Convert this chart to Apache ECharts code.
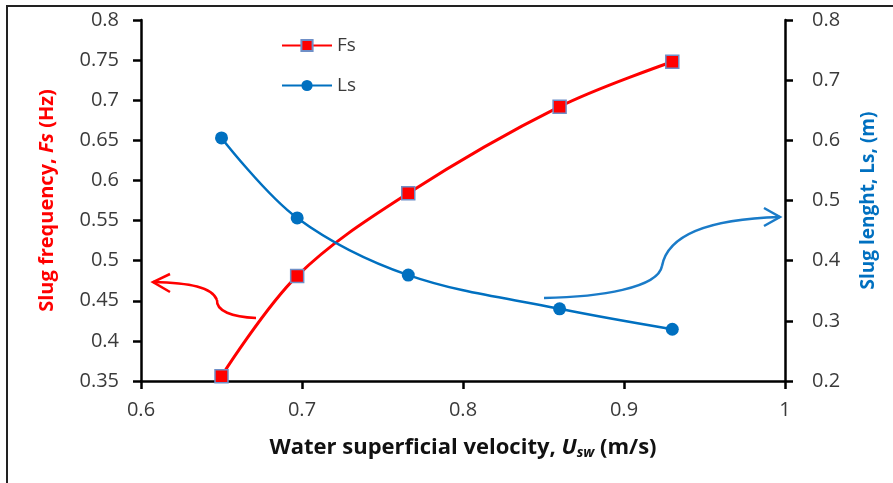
<!DOCTYPE html>
<html>
<head>
<meta charset="utf-8">
<script src="https://cdn.jsdelivr.net/npm/echarts@6/dist/echarts.min.js"></script>
<style>
  html, body { margin: 0; padding: 0; background: #fff; }
  #chart { width: 893px; height: 483px; }
</style>
</head>
<body>
<div id="chart"></div>
<script>
  // water superficial velocity (m/s)
  const velocity = [0.65, 0.697, 0.766, 0.86, 0.93];
  // slug frequency Fs (Hz), left axis
  const fsValues = [0.356, 0.481, 0.584, 0.692, 0.748];
  // slug length Ls (m), right axis
  const lsValues = [0.604, 0.471, 0.376, 0.32, 0.286];

  const RED = '#ff0000';
  const BLUE = '#0070c0';
  const ARROW_BLUE = '#1a7bc8';
  const FONT = '"Open Sans", "Liberation Sans", sans-serif';
  const TXT = '#3a3a3a';

  const chart = echarts.init(document.getElementById('chart'));

  const tickLabel = { fontFamily: FONT, fontSize: 20, color: TXT };
  const axisLine = { show: true, lineStyle: { color: '#000', width: 2.5 } };
  const axisTick = { show: true, inside: false, length: 8, lineStyle: { color: '#000', width: 2.5 } };

  function curve(x1, y1, c1x, c1y, c2x, c2y, x2, y2, color) {
    return {
      type: 'bezierCurve',
      shape: { x1: x1, y1: y1, cpx1: c1x, cpy1: c1y, cpx2: c2x, cpy2: c2y, x2: x2, y2: y2 },
      style: { fill: null, stroke: color, lineWidth: 2.5 },
      silent: true
    };
  }
  function head(points, color) {
    return {
      type: 'polyline',
      shape: { points: points },
      style: { fill: null, stroke: color, lineWidth: 2.5 },
      silent: true
    };
  }

  chart.setOption({
    animation: false,
    grid: { left: 141, right: 108, top: 20, bottom: 102 },
    legend: {
      orient: 'vertical',
      left: 276,
      top: 31,
      itemWidth: 50,
      itemHeight: 14,
      itemGap: 21,
      textStyle: { fontFamily: FONT, fontSize: 19, color: TXT },
      data: ['Fs', 'Ls']
    },
    xAxis: {
      type: 'value',
      min: 0.6,
      max: 1,
      interval: 0.1,
      splitLine: { show: false },
      axisLine: axisLine,
      axisTick: axisTick,
      axisLabel: Object.assign({ margin: 19, formatter: v => String(+v.toFixed(1)) }, tickLabel),
      name: '{a|Water superficial velocity, }{i|U}{s|sw}{a| (m/s)}',
      nameLocation: 'middle',
      nameGap: 55,
      nameTextStyle: {
        rich: {
          a: { fontFamily: FONT, fontSize: 22, fontWeight: 'bold', color: '#111' },
          i: { fontFamily: FONT, fontSize: 22, fontWeight: 'bold', fontStyle: 'italic', color: '#111' },
          s: { fontFamily: FONT, fontSize: 14, fontWeight: 'bold', fontStyle: 'italic', color: '#111', padding: [10, 0, 0, 0] }
        }
      }
    },
    yAxis: [
      {
        type: 'value',
        position: 'left',
        min: 0.35,
        max: 0.8,
        interval: 0.05,
        splitLine: { show: false },
        axisLine: axisLine,
        axisTick: axisTick,
        axisLabel: Object.assign({ margin: 22, formatter: v => String(+v.toFixed(2)) }, tickLabel),
        name: '{a|Slug frequency, }{i|Fs}{a| (Hz)}',
        nameLocation: 'middle',
        nameRotate: 90,
        nameGap: 84,
        nameTextStyle: {
          rich: {
            a: { fontFamily: FONT, fontSize: 20, fontWeight: 'bold', color: RED },
            i: { fontFamily: FONT, fontSize: 20, fontWeight: 'bold', fontStyle: 'italic', color: RED }
          }
        }
      },
      {
        type: 'value',
        position: 'right',
        min: 0.2,
        max: 0.8,
        interval: 0.1,
        splitLine: { show: false },
        axisLine: axisLine,
        axisTick: axisTick,
        axisLabel: Object.assign({ margin: 27, formatter: v => String(+v.toFixed(1)) }, tickLabel),
        name: 'Slug lenght, Ls, (m)',
        nameLocation: 'middle',
        nameRotate: 90,
        nameGap: 74,
        nameTextStyle: { fontFamily: FONT, fontSize: 19, fontWeight: 'bold', color: BLUE }
      }
    ],
    series: [
      {
        name: 'Fs',
        type: 'line',
        yAxisIndex: 0,
        smooth: 0.35,
        data: velocity.map((x, i) => [x, fsValues[i]]),
        symbol: 'rect',
        symbolSize: 13,
        lineStyle: { color: RED, width: 3 },
        itemStyle: { color: RED, borderColor: '#6f8fc7', borderWidth: 1.5 }
      },
      {
        name: 'Ls',
        type: 'line',
        yAxisIndex: 1,
        smooth: 0.35,
        data: velocity.map((x, i) => [x, lsValues[i]]),
        symbol: 'circle',
        symbolSize: 13,
        lineStyle: { color: BLUE, width: 2.5 },
        itemStyle: { color: BLUE, borderWidth: 0 }
      }
    ],
    graphic: [
      // outer frame
      {
        type: 'rect',
        shape: { x: 7, y: 6, width: 900, height: 490 },
        style: { fill: null, stroke: '#222', lineWidth: 2 },
        silent: true
      },
      // red arrow toward left axis
      curve(256, 318, 232, 317, 216, 311, 217, 300, RED),
      curve(217, 300, 212, 287, 190, 283, 153, 282, RED),
      head([[170, 274], [153, 282], [170, 292]], RED),
      // blue arrow toward right axis
      curve(544, 298, 600, 297, 658, 288, 662, 266, ARROW_BLUE),
      curve(662, 266, 668, 234, 710, 219, 780, 217, ARROW_BLUE),
      head([[764, 208], [780, 217], [764, 226]], ARROW_BLUE)
    ]
  });
</script>
</body>
</html>
